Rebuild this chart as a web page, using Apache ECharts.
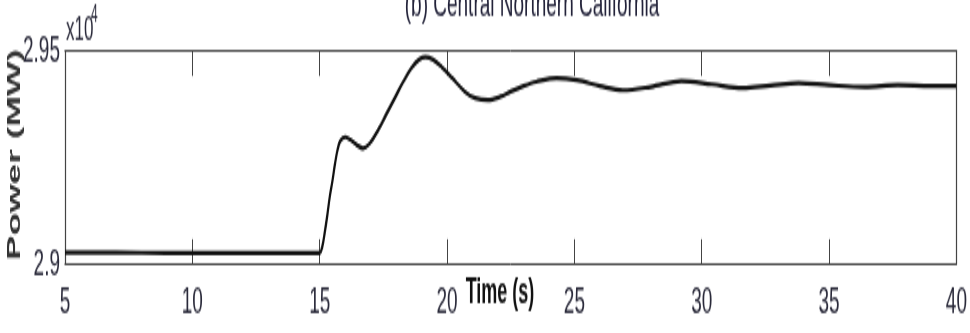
<!DOCTYPE html>
<html>
<head>
<meta charset="utf-8">
<script src="https://cdn.jsdelivr.net/npm/echarts@6/dist/echarts.min.js"></script>
<style>
  html, body { margin: 0; padding: 0; background: #fff; overflow: hidden; }
  #wrap { width: 970px; height: 333px; overflow: hidden; }
  /* the figure is drawn at half height and stretched vertically */
  #chart { width: 970px; height: 167px; transform: scaleY(1.994012); transform-origin: 0 0; }
</style>
</head>
<body>
<div id="wrap"><div id="chart"></div></div>
<script>
// Time (s) and generator power (MW) after the disturbance at t = 15 s
const timeSec = [5, 7, 9, 11, 13, 14, 15.0, 15.1, 15.2, 15.3, 15.4, 15.5, 15.6, 15.7, 15.8,
  16.0, 16.2, 16.45, 16.7, 16.95, 17.3, 17.6, 17.95, 18.3, 18.6, 18.9, 19.15, 19.45, 19.8,
  20.2, 20.7, 21.1, 21.6, 22.1, 22.5, 23.0, 23.5, 24.3, 25.1, 26.0, 26.9, 28.0, 29.2, 30.4,
  31.6, 32.7, 33.8, 35.0, 36.4, 37.7, 39.0, 40];
const powerMW = [29027, 29027, 29026, 29026, 29026, 29026, 29026, 29040, 29075, 29115, 29160,
  29195, 29235, 29268, 29288, 29298, 29292, 29280, 29272, 29282, 29315, 29350, 29390, 29430,
  29460, 29480, 29486, 29480, 29462, 29437, 29405, 29390, 29385, 29393, 29405, 29418, 29428,
  29437, 29432, 29418, 29408, 29416, 29430, 29422, 29413, 29419, 29425, 29420, 29416, 29420,
  29418, 29418];

// axis ranges and tick spacing
const xRange = [5, 40];
const xStep = 5;
const yRange = [29000, 29500];
const yStep = 500;
const yScaleBase = 'x10';
const yScaleExp = '4';

const titleText = '(b) Central Northern California';
const xName = 'Time (s)';
const yName = 'Power (MW)';

const narrow = "'Liberation Sans Narrow', 'Arial Narrow', 'Liberation Sans', sans-serif";
const axisColor = '#444';
const labelColor = '#2a2a3a';

const chart = echarts.init(document.getElementById('chart'), null, { renderer: 'canvas' });

const series = [{
  type: 'line',
  data: timeSec.map((t, i) => [t, powerMW[i]]),
  showSymbol: false,
  smooth: 0.35,
  lineStyle: { color: '#111', width: 2.2 },
  silent: true
}];

const xCommon = {
  type: 'value', min: xRange[0], max: xRange[1], interval: xStep,
  splitLine: { show: false },
  axisLine: { show: true, lineStyle: { color: axisColor, width: 1 } },
  axisTick: { show: true, inside: true, length: 12.5, lineStyle: { color: axisColor, width: 1 } }
};
const yCommon = {
  type: 'value', min: yRange[0], max: yRange[1], interval: yStep,
  splitLine: { show: false },
  axisLine: { show: true, lineStyle: { color: axisColor, width: 1.2 } },
  axisTick: { show: false }
};

chart.setOption({
  animation: false,
  backgroundColor: '#fff',
  grid: { left: 65, right: 6, top: 25.6, height: 106.8 },
  xAxis: [
    Object.assign({}, xCommon, {
      position: 'bottom',
      axisLabel: { show: true, margin: 9.5, fontFamily: narrow, fontSize: 19, color: labelColor }
    }),
    Object.assign({}, xCommon, { position: 'top', axisLabel: { show: false } })
  ],
  yAxis: [
    Object.assign({}, yCommon, {
      position: 'left',
      axisLabel: {
        show: true, margin: 5, fontFamily: narrow, fontSize: 19, color: labelColor,
        formatter: v => String(v / 10000)
      }
    }),
    Object.assign({}, yCommon, { position: 'right', axisLabel: { show: false } })
  ],
  graphic: [
    {
      type: 'text', x: 532, y: 2.8, silent: true,
      style: { text: titleText, fontFamily: narrow, fontSize: 19, fill: '#23233a',
        align: 'center', verticalAlign: 'middle' }
    },
    {
      type: 'text', x: 66, y: 15.3, silent: true,
      style: { text: yScaleBase, fontFamily: narrow, fontSize: 17,
        fill: labelColor, align: 'left', verticalAlign: 'middle' }
    },
    {
      type: 'text', x: 91, y: 7.5, silent: true,
      style: { text: yScaleExp, fontFamily: narrow, fontSize: 12,
        fill: labelColor, align: 'left', verticalAlign: 'middle' }
    },
    {
      type: 'text', x: 500, y: 147.5, silent: true,
      style: { text: xName, fontFamily: narrow, fontWeight: 'bold', fontSize: 18,
        fill: '#111', align: 'center', verticalAlign: 'middle' }
    },
    {
      type: 'text', x: 15, y: 77.5, rotation: Math.PI / 2, silent: true,
      style: { text: yName, fontFamily: "'Liberation Sans', Arial, sans-serif", fontWeight: 'bold',
        fontSize: 18.5, fill: '#333', align: 'center', verticalAlign: 'middle' }
    }
  ],
  series: series
});
</script>
</body>
</html>
